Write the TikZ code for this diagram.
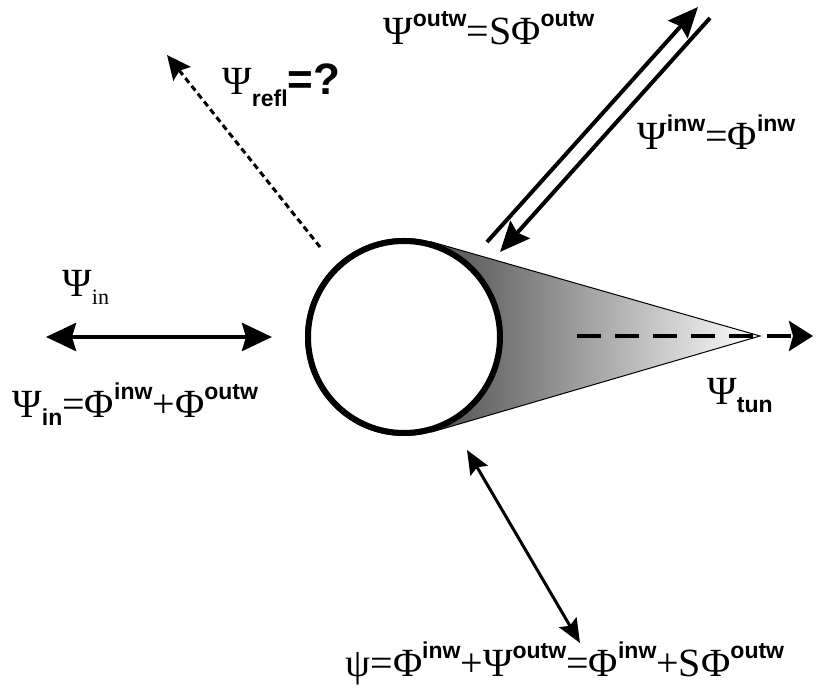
\documentclass[tikz,border=0pt]{standalone}
\usepackage{fontspec}
\setmainfont{Liberation Serif}
\setsansfont{Liberation Sans}
\usetikzlibrary{arrows.meta,calc}
\newcommand{\supw}[1]{\raisebox{0.45em}{\fontsize{11.5}{11.5}\selectfont\sffamily\bfseries #1}}
\newcommand{\subw}[1]{\raisebox{-0.2em}{\fontsize{11.5}{11.5}\selectfont\sffamily\bfseries #1}}

\begin{document}
\begin{tikzpicture}[
    x=0.5pt, y=-0.5pt,
    lbl/.style={inner sep=0pt, anchor=base west, font=\fontsize{20}{20}\selectfont},
    wave/.style={line width=2pt, -{Stealth[length=15pt, width=13pt, inset=2pt]}},
    bothway/.style={line width=2pt, {Stealth[length=15pt, width=14pt, inset=2pt]}-{Stealth[length=15pt, width=14pt, inset=2pt]}},
    thinway/.style={line width=1.5pt, {Stealth[length=12pt, width=10pt, inset=2pt]}-{Stealth[length=12pt, width=10pt, inset=2pt]}},
    scatterer/.style={circle, draw, fill=white, line width=3pt, minimum size=96pt, inner sep=0pt}
]
    \useasboundingbox (0,0) rectangle (816,688);

    % scatterer and tunnelling cone
    \node[scatterer] (scat) at (404,337) {};
    \coordinate (tip) at (760,336);
    \coordinate (coneA) at (tangent cs:node=scat, point={(tip)}, solution=1);
    \coordinate (coneB) at (tangent cs:node=scat, point={(tip)}, solution=2);
    \draw[line width=0.5pt, left color=black!75, right color=white] (coneA) -- (tip) -- (coneB) -- (scat.center) -- cycle;
    \node[scatterer] at (scat.center) {};

    % tunnelling wave
    \coordinate (tunS) at (577,336);
    \coordinate (tunE) at (813,336);
    \draw[line width=2pt, dash pattern=on 12pt off 7pt, -{Stealth[length=12pt, width=15pt, inset=2pt]}] (tunS) -- (tunE);
    \node[lbl] (psitun) at (707,405) {Ψ\subw{tun}};

    % incoming lead
    \coordinate (inL) at (46,337);
    \coordinate (inR) at (272,337);
    \draw[bothway] (inL) -- (inR);
    \node[lbl] (psiin) at (62,297) {Ψ\raisebox{-0.2em}{\fontsize{11}{11}\selectfont in}};
    \node[lbl] (psiinsum) at (12,418) {Ψ\subw{in}=Φ\supw{inw}+Φ\supw{outw}};

    % reflected wave
    \coordinate (reflS) at (320,247);
    \coordinate (reflE) at (167,55);
    \draw[line width=1.5pt, dash pattern=on 3pt off 2pt, -{Stealth[length=12pt, width=11pt, inset=2pt]}] (reflS) -- (reflE);
    \node[lbl] (psirefl) at (222,95) {Ψ\raisebox{-0.3em}{\fontsize{11.5}{11.5}\selectfont\sffamily\bfseries refl}{\fontsize{22}{22}\selectfont\sffamily\bfseries =?}};

    % outgoing and incoming channel
    \coordinate (outS) at (487,242);
    \coordinate (outE) at (698,7);
    \coordinate (inwS) at (710,18);
    \coordinate (inwE) at (500,252);
    \draw[wave] (outS) -- (outE);
    \draw[wave] (inwS) -- (inwE);
    \node[lbl] (psiout) at (383,45) {Ψ\supw{outw}=SΦ\supw{outw}};
    \node[lbl] (psiinw) at (637,150) {Ψ\supw{inw}=Φ\supw{inw}};

    % local wave function
    \coordinate (locA) at (467,450);
    \coordinate (locB) at (580,643);
    \draw[thinway] (locA) -- (locB);
    \node[lbl] (psiloc) at (345,677) {ψ=Φ\supw{inw}+Ψ\supw{outw}=Φ\supw{inw}+SΦ\supw{outw}};
\end{tikzpicture}
\end{document}
